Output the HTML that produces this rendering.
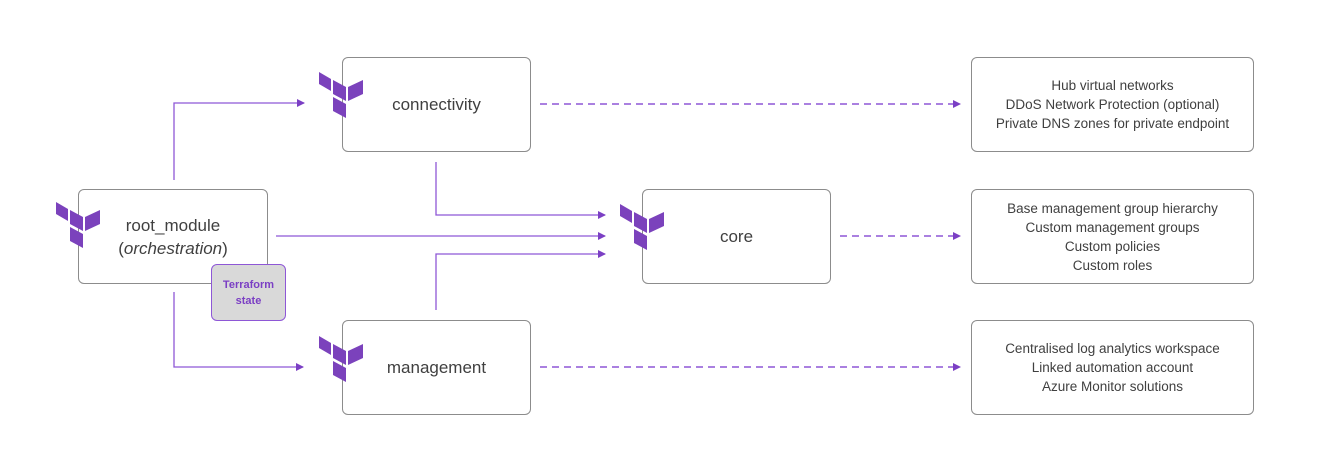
<!DOCTYPE html>
<html><head><meta charset="utf-8"><style>
body{margin:0;background:#fff;width:1323px;height:472px;overflow:hidden;position:relative;font-family:"Liberation Sans",sans-serif;}
.b{position:absolute;border:1px solid #8c8c8c;border-radius:6px;background:#fff;box-sizing:border-box;display:flex;align-items:center;justify-content:center;text-align:center;color:#404040;}
.m{font-size:17px;}
.r{font-size:13.5px;line-height:19px;}
svg{position:absolute;left:0;top:0;}
</style></head><body>
<div class="b m" style="left:342px;top:57px;width:189px;height:95px;">connectivity</div>
<div class="b m" style="left:78px;top:189px;width:190px;height:95px;line-height:23px;"><div>root_module<br>(<i>orchestration</i>)</div></div>
<div class="b m" style="left:642px;top:189px;width:189px;height:95px;">core</div>
<div class="b m" style="left:342px;top:320px;width:189px;height:95px;">management</div>
<div class="b r" style="left:971px;top:57px;width:283px;height:95px;"><div>Hub virtual networks<br>DDoS Network Protection (optional)<br>Private DNS zones for private endpoint</div></div>
<div class="b r" style="left:971px;top:189px;width:283px;height:95px;"><div>Base management group hierarchy<br>Custom management groups<br>Custom policies<br>Custom roles</div></div>
<div class="b r" style="left:971px;top:320px;width:283px;height:95px;"><div>Centralised log analytics workspace<br>Linked automation account<br>Azure Monitor solutions</div></div>
<div class="b" style="left:211px;top:264px;width:75px;height:57px;background:#d9d9d9;border-color:#8e57d6;color:#7b3fc4;font-size:11px;font-weight:bold;line-height:16px;"><div>Terraform<br>state</div></div>
<svg width="1323" height="472">
<defs>
<marker id="a" markerWidth="8" markerHeight="8" refX="7" refY="4" orient="auto" markerUnits="userSpaceOnUse"><path d="M0,0L8,4L0,8z" fill="#7b3fc4"/></marker>
<g id="t" fill="#7b42bc">
<path d="M0,2L12,9L12,21L0,14z"/><path d="M14,10L27,17L27,31L14,24z"/><path d="M29,17L44,10L44,24L29,31z"/><path d="M14,27L27,34L27,48L14,41z"/>
</g>
</defs>
<g stroke="#8e57d6" stroke-width="1.3" fill="none">
<path d="M174,180V103H304" marker-end="url(#a)"/>
<path d="M174,292V367H303" marker-end="url(#a)"/>
<path d="M276,236H605" marker-end="url(#a)"/>
<path d="M436,162V215H605" marker-end="url(#a)"/>
<path d="M436,310V254H605" marker-end="url(#a)"/>
<g stroke-dasharray="7,5" stroke-width="1.5">
<path d="M540,104H960" marker-end="url(#a)"/>
<path d="M840,236H960" marker-end="url(#a)"/>
<path d="M540,367H960" marker-end="url(#a)"/>
</g>
</g>
<use href="#t" x="319" y="70"/>
<use href="#t" x="56" y="200"/>
<use href="#t" x="620" y="202"/>
<use href="#t" x="319" y="334"/>
</svg>
</body></html>
